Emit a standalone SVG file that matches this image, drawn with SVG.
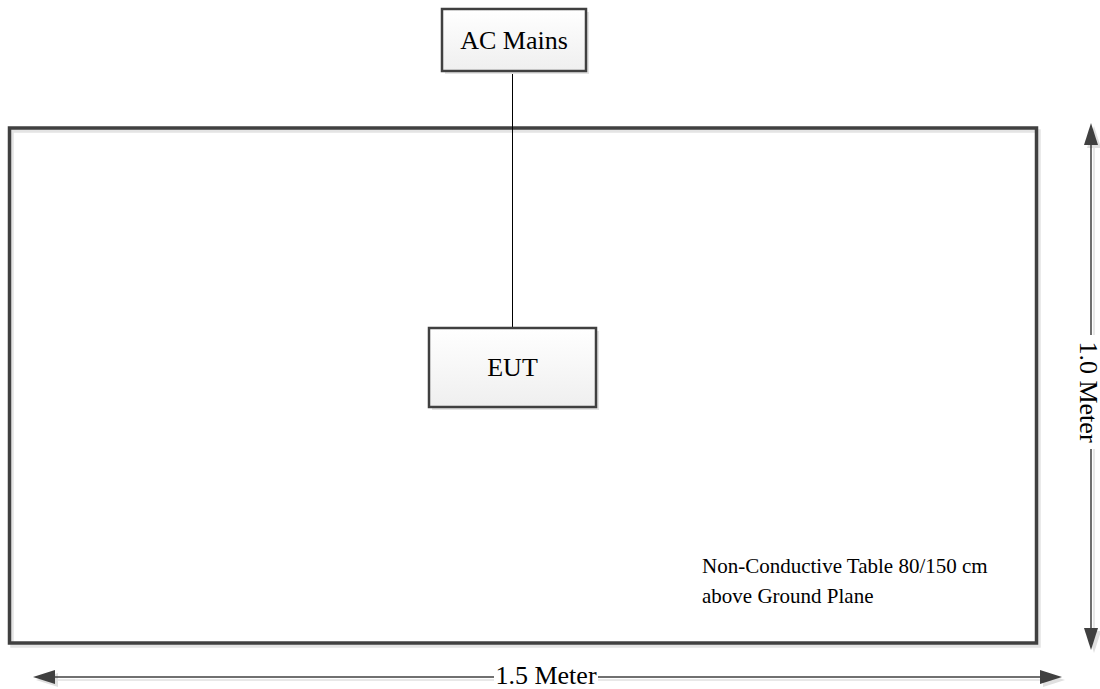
<svg xmlns="http://www.w3.org/2000/svg" width="1100" height="689" viewBox="0 0 1100 689">
  <defs>
    <linearGradient id="boxFill" x1="0" y1="0" x2="0" y2="1">
      <stop offset="0" stop-color="#ffffff"/>
      <stop offset="1" stop-color="#efefef"/>
    </linearGradient>
  </defs>
  <style>
    .box { fill: url(#boxFill); stroke: #404040; stroke-width: 2.5; }
    .shadow { fill: #e4e4e4; stroke: none; }
    .lbl { font-family: "Liberation Serif", "Times New Roman", serif; font-size: 26px; fill: #000; }
    .note { font-family: "Liberation Serif", "Times New Roman", serif; font-size: 21px; fill: #000; }
    .dim { stroke: #404040; stroke-width: 1.5; fill: none; }
    .dimsh { stroke: #e0e0e0; stroke-width: 1.5; fill: none; }
    .head { fill: #404040; }
    .headsh { fill: #e0e0e0; }
    .wire { stroke: #000; stroke-width: 1; fill: none; }
  </style>

  <g id="table">
    <rect x="12" y="131" width="1027" height="515" fill="none" stroke="#e4e4e4" stroke-width="3.5"/>
    <rect x="9.5" y="128" width="1027" height="515" fill="none" stroke="#404040" stroke-width="3.5"/>
    <text class="note" x="702" y="573">Non-Conductive Table 80/150 cm</text>
    <text class="note" x="702" y="603">above Ground Plane</text>
  </g>

  <g id="connectors">
    <line class="wire" x1="512.5" y1="71" x2="512.5" y2="328"/>
  </g>

  <g id="ac-mains">
    <rect class="shadow" x="445" y="12" width="144" height="62"/>
    <rect class="box" x="442" y="9" width="144" height="62"/>
    <text class="lbl" x="514" y="49" text-anchor="middle">AC Mains</text>
  </g>

  <g id="eut">
    <rect class="shadow" x="432" y="331" width="167" height="79"/>
    <rect class="box" x="429" y="328" width="167" height="79"/>
    <text class="lbl" x="512.5" y="376" text-anchor="middle">EUT</text>
  </g>

  <g id="dim-vertical">
    <line class="dimsh" x1="1094" y1="145" x2="1094" y2="335"/>
    <line class="dimsh" x1="1094" y1="449" x2="1094" y2="629"/>
    <polygon class="headsh" points="1094,126 1101,148 1087,148"/>
    <polygon class="headsh" points="1094,653 1101,631 1087,631"/>
    <line class="dim" x1="1091" y1="143" x2="1091" y2="335"/>
    <line class="dim" x1="1091" y1="449" x2="1091" y2="631"/>
    <polygon class="head" points="1091,123 1098,145 1084,145"/>
    <polygon class="head" points="1091,650 1098,628 1084,628"/>
    <text class="lbl" transform="translate(1080,392) rotate(90)" text-anchor="middle">1.0 Meter</text>
  </g>

  <g id="dim-horizontal">
    <line class="dimsh" x1="55" y1="680" x2="494" y2="680"/>
    <line class="dimsh" x1="598" y1="680" x2="1040" y2="680"/>
    <polygon class="headsh" points="36,680 58,673 58,687"/>
    <polygon class="headsh" points="1065,680 1043,673 1043,687"/>
    <line class="dim" x1="53" y1="677" x2="494" y2="677"/>
    <line class="dim" x1="598" y1="677" x2="1042" y2="677"/>
    <polygon class="head" points="33,677 55,670 55,684"/>
    <polygon class="head" points="1062,677 1040,670 1040,684"/>
    <text class="lbl" x="546" y="684" text-anchor="middle">1.5 Meter</text>
  </g>
</svg>
